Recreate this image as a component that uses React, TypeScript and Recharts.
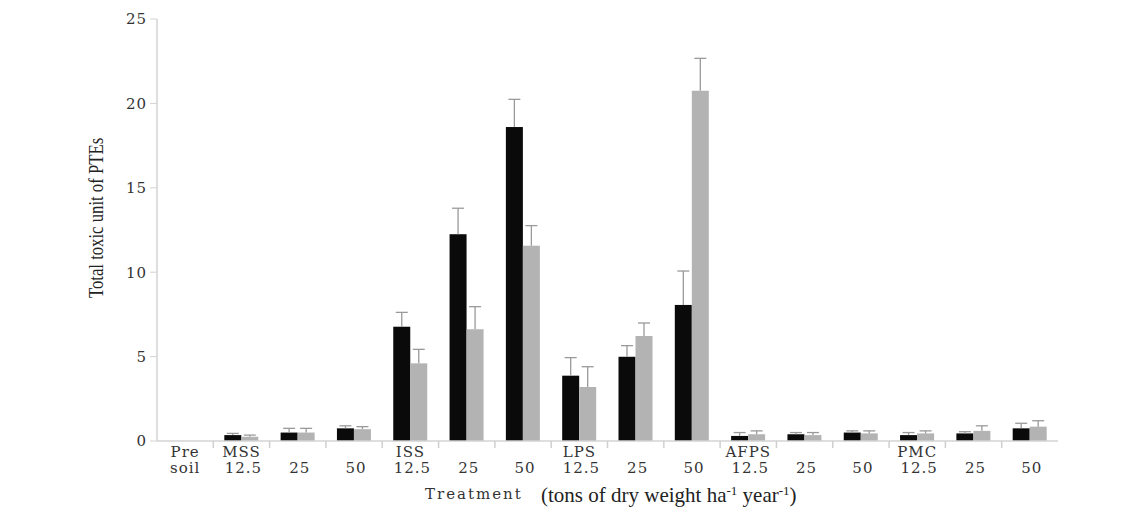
import { BarChart, Bar, XAxis, YAxis } from "recharts";

// treatment groups and application rates (tons of dry weight per ha per year)
const groupLabels = ["Pre", "MSS", "", "", "ISS", "", "", "LPS", "", "", "AFPS", "", "", "PMC", "", ""];
const rateLabels = ["soil", "12.5", "25", "50", "12.5", "25", "50", "12.5", "25", "50", "12.5", "25", "50", "12.5", "25", "50"];

// two series: black and grey bars with upper error bars
const blackValues = [0, 0.35, 0.5, 0.75, 6.77, 12.25, 18.6, 3.87, 4.99, 8.06, 0.3, 0.4, 0.5, 0.35, 0.45, 0.75];
const blackErrors = [0, 0.1, 0.25, 0.15, 0.85, 1.54, 1.64, 1.07, 0.66, 2.01, 0.2, 0.1, 0.1, 0.15, 0.1, 0.3];
const greyValues = [0, 0.25, 0.5, 0.7, 4.6, 6.62, 11.57, 3.2, 6.22, 20.75, 0.4, 0.35, 0.45, 0.45, 0.6, 0.85];
const greyErrors = [0, 0.1, 0.25, 0.15, 0.83, 1.34, 1.19, 1.2, 0.77, 1.92, 0.2, 0.15, 0.15, 0.15, 0.3, 0.35];

const yTicks = [0, 5, 10, 15, 20, 25];

const data = rateLabels.map((rate, i) => ({
  key: `${groupLabels[i]} ${rate}`,
  black: blackValues[i],
  blackErr: blackErrors[i],
  grey: greyValues[i],
  greyErr: greyErrors[i],
}));

const W = 1143;
const H = 511;
const LEFT = 157;
const RIGHT = 85;
const catW = (W - LEFT - RIGHT) / data.length;

const tickFont = { fontFamily: "DejaVu Serif", fontSize: 15, fill: "#333", letterSpacing: 1 };
const errColor = "#9a9a9a";

// bar rectangle plus an upward-only error whisker, scaled from the bar's own height
const BarWithErr = (props: any) => {
  const { x, y, width, height, fill, value, payload, errKey } = props;
  if (!height || height <= 0) return null;
  const err = payload[errKey] || 0;
  const v = Array.isArray(value) ? value[1] - value[0] : value;
  const errPx = v ? (height / v) * err : 0;
  const cx = x + width / 2;
  return (
    <g>
      <rect x={x} y={y} width={width} height={height} fill={fill} />
      {errPx > 0 && (
        <g stroke={errColor} strokeWidth={1.3}>
          <line x1={cx} x2={cx} y1={y} y2={y - errPx} />
          <line x1={cx - 6} x2={cx + 6} y1={y - errPx} y2={y - errPx} />
        </g>
      )}
    </g>
  );
};

const XTick = ({ x, y, payload }: any) => {
  const i = payload.index;
  return (
    <g>
      {i < data.length - 1 && (
        <line x1={x + catW / 2} x2={x + catW / 2} y1={y} y2={y + 7} stroke="#cfcfcf" strokeWidth={1.5} />
      )}
      {groupLabels[i] && (
        <text x={x} y={y + 16} textAnchor="middle" {...tickFont}>
          {groupLabels[i]}
        </text>
      )}
      <text x={x + (i === 0 ? 0 : 2)} y={y + 32} textAnchor="middle" {...tickFont}>
        {rateLabels[i]}
      </text>
    </g>
  );
};

const XLabel = () => (
  <g>
    <text x={425} y={499} fontFamily="DejaVu Serif" fontSize={15} fill="#333" letterSpacing={2}>
      Treatment
    </text>
    <text x={541} y={502} fontFamily="Liberation Serif" fontSize={21} fill="#222">
      (tons of dry weight ha
      <tspan fontSize={13} dy={-7}>-1</tspan>
      <tspan dy={7}> year</tspan>
      <tspan fontSize={13} dy={-7}>-1</tspan>
      <tspan dy={7}>)</tspan>
    </text>
  </g>
);

const YLabel = () => (
  <text
    transform="translate(103 218) rotate(-90) scale(0.76 1)"
    textAnchor="middle"
    fontFamily="Liberation Serif"
    fontSize={22}
    fill="#222"
  >
    Total toxic unit of PTEs
  </text>
);

export default function App() {
  return (
    <div style={{ position: "absolute", left: 0, top: 0, background: "#fff" }}>
      <BarChart
        width={W}
        height={H}
        data={data}
        margin={{ top: 19, right: RIGHT, bottom: 0, left: 0 }}
        barSize={17}
        barGap={0}
      >
        <XAxis
          dataKey="key"
          interval={0}
          height={70}
          tickSize={0}
          tickMargin={0}
          tickLine={false}
          axisLine={{ stroke: "#d3d3d3", strokeWidth: 1.5 }}
          tick={<XTick />}
          label={<XLabel />}
        />
        <YAxis
          width={LEFT}
          domain={[0, 25]}
          ticks={yTicks}
          tickSize={7}
          tickMargin={3}
          tickLine={{ stroke: "#d3d3d3" }}
          axisLine={{ stroke: "#d3d3d3", strokeWidth: 1.5 }}
          tick={tickFont}
          label={<YLabel />}
        />
        <Bar
          dataKey="black"
          fill="#0a0a0a"
          isAnimationActive={false}
          shape={(p: any) => <BarWithErr {...p} errKey="blackErr" />}
        />
        <Bar
          dataKey="grey"
          fill="#b3b3b3"
          isAnimationActive={false}
          shape={(p: any) => <BarWithErr {...p} errKey="greyErr" />}
        />
      </BarChart>
    </div>
  );
}
